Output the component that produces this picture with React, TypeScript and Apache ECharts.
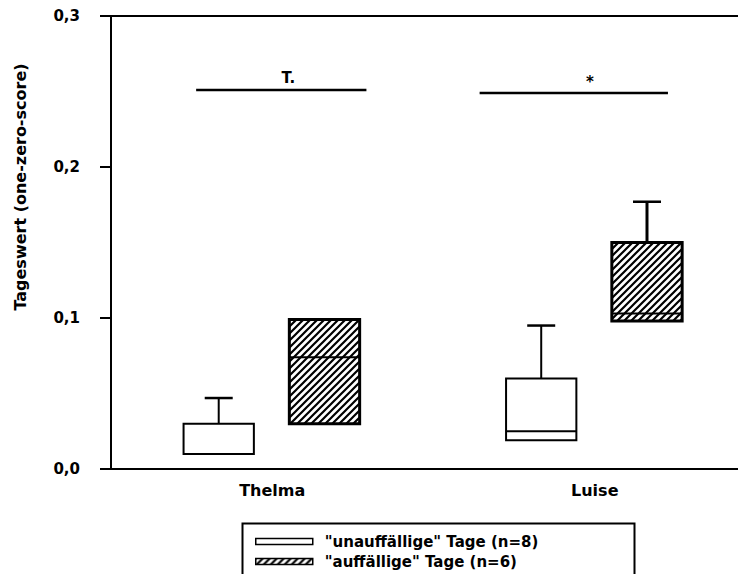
import React, { useEffect, useRef } from "react";
import * as echarts from "echarts";

const categories = ["Thelma", "Luise"];
const seriesNames = ['"unauffällige" Tage (n=8)', '"auffällige" Tage (n=6)'];
// [categoryIndex, q1, median, q3, upperWhisker]
const unauffValues = [
  [0, 0.01, 0.01, 0.03, 0.047],
  [1, 0.019, 0.025, 0.06, 0.095],
];
const auffValues = [
  [0, 0.03, 0.074, 0.099, 0.099],
  [1, 0.098, 0.103, 0.15, 0.177],
];
// significance bars: [categoryIndex, value]
const sigValues = [
  [0, 0.251],
  [1, 0.249],
];
const sigLabels = ["T.", "*"];
const yTicks = [0, 0.1, 0.2, 0.3];
const yAxisTitle = "Tageswert (one-zero-score)";

const FONT = "DejaVu Sans";

function makeHatch(): HTMLCanvasElement {
  const c = document.createElement("canvas");
  const s = 7;
  c.width = s;
  c.height = s;
  const ctx = c.getContext("2d")!;
  ctx.fillStyle = "#ffffff";
  ctx.fillRect(0, 0, s, s);
  ctx.strokeStyle = "#000000";
  ctx.lineWidth = 2.2;
  ctx.beginPath();
  ctx.moveTo(-1, s + 1);
  ctx.lineTo(s + 1, -1);
  ctx.moveTo(-1, 1);
  ctx.lineTo(1, -1);
  ctx.moveTo(s - 1, s + 1);
  ctx.lineTo(s + 1, s - 1);
  ctx.stroke();
  return c;
}

export default function App() {
  const ref = useRef<HTMLDivElement>(null);

  useEffect(() => {
    if (!ref.current) return;
    const chart = echarts.init(ref.current, null, { renderer: "svg" });
    const hatch = { image: makeHatch(), repeat: "repeat" } as any;

    const boxRender = (offsetFrac: number, hatched: boolean) => (params: any, api: any) => {
      const cat = api.value(0);
      const band = api.size([1, 0])[0];
      const center = api.coord([cat, 0])[0] + offsetFrac * band;
      const w = band * 0.218;
      const yq1 = api.coord([cat, api.value(1)])[1];
      const ymed = api.coord([cat, api.value(2)])[1];
      const yq3 = api.coord([cat, api.value(3)])[1];
      const yhi = api.coord([cat, api.value(4)])[1];
      const lw = hatched ? 3 : 2;
      const cap = 28;
      const children: any[] = [];
      if (yhi < yq3 - 1) {
        children.push({
          type: "line",
          shape: { x1: center, y1: yq3, x2: center, y2: yhi },
          style: { stroke: "#000", lineWidth: lw },
        });
        children.push({
          type: "line",
          shape: { x1: center - cap / 2, y1: yhi, x2: center + cap / 2, y2: yhi },
          style: { stroke: "#000", lineWidth: 2.5 },
        });
      }
      children.push({
        type: "rect",
        shape: { x: center - w / 2, y: yq3, width: w, height: yq1 - yq3 },
        style: { fill: hatched ? hatch : "#fff", stroke: "#000", lineWidth: lw },
      });
      children.push({
        type: "line",
        shape: { x1: center - w / 2, y1: ymed, x2: center + w / 2, y2: ymed },
        style: { stroke: "#000", lineWidth: 2 },
      });
      return { type: "group", children };
    };

    const sigOffsets = [
      [-0.236, 0.292, 0.05],
      [-0.357, 0.227, -0.015],
    ];

    const option: any = {
      animation: false,
      backgroundColor: "#fff",
      grid: { left: 111, top: 16, width: 645, bottom: 105, outerBoundsMode: "none", containLabel: false },
      xAxis: [
        {
          type: "category",
          data: categories,
          position: "bottom",
          axisLine: { lineStyle: { color: "#000", width: 2 } },
          axisTick: { show: false },
          axisLabel: {
            margin: 13,
            color: "#000",
            fontFamily: FONT,
            fontWeight: "bold",
            fontSize: 16,
            formatter: (v: string) => v,
          },
        },
        {
          type: "category",
          data: categories,
          position: "top",
          axisLine: { lineStyle: { color: "#000", width: 2 } },
          axisTick: { show: false },
          axisLabel: { show: false },
        },
      ],
      yAxis: {
        type: "value",
        min: yTicks[0],
        max: yTicks[yTicks.length - 1],
        interval: 0.1,
        axisLine: { show: true, lineStyle: { color: "#000", width: 2 } },
        axisTick: { show: true, length: 11, lineStyle: { color: "#000", width: 2 } },
        splitLine: { show: false },
        axisLabel: {
          margin: 31,
          color: "#000",
          fontFamily: FONT,
          fontWeight: "bold",
          fontSize: 15,
          formatter: (v: number) => v.toFixed(1).replace(".", ","),
        },
      },
      legend: {
        left: 255,
        top: 534,
        height: 60,
        padding: 0,
        orient: "vertical",
        itemWidth: 57,
        itemHeight: 6,
        itemGap: 5,
        icon: "rect",
        selectedMode: false,
        textStyle: {
          color: "#000",
          fontFamily: FONT,
          fontWeight: "bold",
          fontSize: 15,
          padding: [0, 0, 0, 7],
        },
        data: [
          { name: seriesNames[0], itemStyle: { color: "#fff", borderColor: "#000", borderWidth: 1.5 } },
          { name: seriesNames[1], itemStyle: { color: hatch, borderColor: "#000", borderWidth: 1.5 } },
        ],
      },
      graphic: [
        {
          type: "rect",
          left: 240,
          top: 521,
          shape: { width: 392, height: 60 },
          style: { fill: "none", stroke: "#000", lineWidth: 2 },
        },
        {
          type: "text",
          x: 20,
          y: 187,
          rotation: Math.PI / 2,
          style: {
            text: yAxisTitle,
            fill: "#000",
            font: `bold 16px "${FONT}"`,
            align: "center",
            verticalAlign: "middle",
          },
        },
      ],
      series: [
        {
          name: seriesNames[0],
          type: "custom",
          data: unauffValues,
          renderItem: boxRender(-0.166, false),
          itemStyle: { color: "#fff", borderColor: "#000" },
          encode: { x: 0, y: [1, 2, 3, 4] },
        },
        {
          name: seriesNames[1],
          type: "custom",
          data: auffValues,
          renderItem: boxRender(0.162, true),
          itemStyle: { color: "#000" },
          encode: { x: 0, y: [1, 2, 3, 4] },
        },
        {
          name: "sig",
          type: "custom",
          data: sigValues,
          encode: { x: 0, y: 1 },
          renderItem: (params: any, api: any) => {
            const cat = api.value(0);
            const band = api.size([1, 0])[0];
            const cx = api.coord([cat, 0])[0];
            const y = api.coord([cat, api.value(1)])[1];
            const o = sigOffsets[params.dataIndex];
            return {
              type: "group",
              children: [
                {
                  type: "line",
                  shape: { x1: cx + o[0] * band, y1: y, x2: cx + o[1] * band, y2: y },
                  style: { stroke: "#000", lineWidth: 2.5 },
                },
                {
                  type: "text",
                  x: cx + o[2] * band,
                  y: y - 4,
                  style: {
                    text: sigLabels[params.dataIndex],
                    fill: "#000",
                    font: `bold 15px "${FONT}"`,
                    align: "center",
                    verticalAlign: "bottom",
                  },
                },
              ],
            };
          },
        },
      ],
    };
    chart.setOption(option);
    return () => chart.dispose();
  }, []);

  return <div ref={ref} style={{ width: 738, height: 574, position: "absolute", left: 0, top: 0 }} />;
}
